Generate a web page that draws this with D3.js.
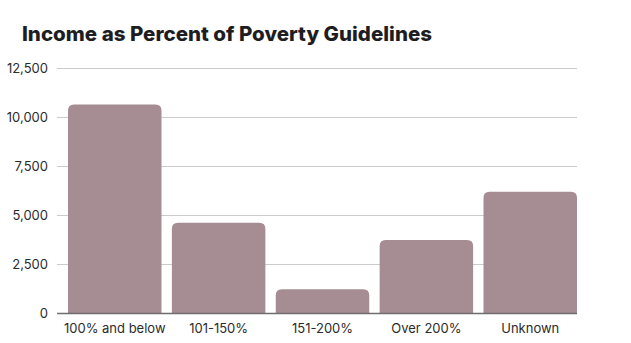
<!DOCTYPE html>
<html>
<head>
<meta charset="utf-8">
<script src="https://cdn.jsdelivr.net/npm/d3@7"></script>
<style>
  body { margin: 0; background: #fff; }
  text { font-family: "Inter", "Lato", sans-serif; }
</style>
</head>
<body>
<div id="container"></div>
<script>
/* DATA */
const categories = ["100% and below", "101-150%", "151-200%", "Over 200%", "Unknown"];
const counts = [10640, 4600, 1210, 3720, 6190];
const yTicks = [0, 2500, 5000, 7500, 10000, 12500];

/* SIZES */
const W = 631, H = 343;
const gridLeft = 57, gridRight = 577;
const plotTop = 68, plotBottom = 313;

const svg = d3.select("#container")
  .append("svg")
    .attr("width", W)
    .attr("height", H);

const x = d3.scaleBand()
  .domain(categories)
  .range([68, 577])
  .paddingInner(0.1)
  .paddingOuter(0);

const y = d3.scaleLinear()
  .domain([0, 12500])
  .range([plotBottom, plotTop]);

/* TITLE */
svg.append("text")
  .attr("x", 22)
  .attr("y", 41)
  .style("font-size", "20px")
  .style("font-weight", 800)
  .attr("fill", "#1e1e22")
  .attr("textLength", 410)
  .attr("lengthAdjust", "spacingAndGlyphs")
  .text("Income as Percent of Poverty Guidelines");

/* GRID + Y LABELS */
svg.append("g")
  .selectAll("line")
  .data(yTicks.filter(d => d > 0))
  .join("line")
    .attr("x1", gridLeft)
    .attr("x2", gridRight)
    .attr("y1", d => y(d) + 0.5)
    .attr("y2", d => y(d) + 0.5)
    .attr("stroke", "#cbcbcb")
    .attr("stroke-width", 1);

svg.append("g")
  .selectAll("text")
  .data(yTicks)
  .join("text")
    .attr("x", 48)
    .attr("y", d => y(d))
    .attr("dy", "0.35em")
    .attr("text-anchor", "end")
    .style("font-size", "13px")
    .attr("fill", "#2b2b2b")
    .text(d => d3.format(",")(d));

/* BARS - rounded top corners */
const r = 6;
svg.append("g")
  .selectAll("path")
  .data(categories.map((c, i) => ({cat: c, val: counts[i]})))
  .join("path")
    .attr("fill", "#a68d93")
    .attr("d", d => {
      const x0 = x(d.cat), x1 = x0 + x.bandwidth();
      const y0 = y(d.val), y1 = y(0);
      const rr = Math.min(r, (y1 - y0) / 2);
      return `M${x0},${y1} V${y0 + rr} Q${x0},${y0} ${x0 + rr},${y0} H${x1 - rr} Q${x1},${y0} ${x1},${y0 + rr} V${y1} Z`;
    });

/* BASELINE */
svg.append("line")
  .attr("x1", gridLeft)
  .attr("x2", gridRight)
  .attr("y1", y(0) + 0.5)
  .attr("y2", y(0) + 0.5)
  .attr("stroke", "#6e6e6e")
  .attr("stroke-width", 1.5);

/* X LABELS */
svg.append("g")
  .selectAll("text")
  .data(categories)
  .join("text")
    .attr("x", d => x(d) + x.bandwidth() / 2)
    .attr("y", 333)
    .attr("text-anchor", "middle")
    .style("font-size", "13px")
    .attr("fill", "#2b2b2b")
    .text(d => d);
</script>
</body>
</html>
